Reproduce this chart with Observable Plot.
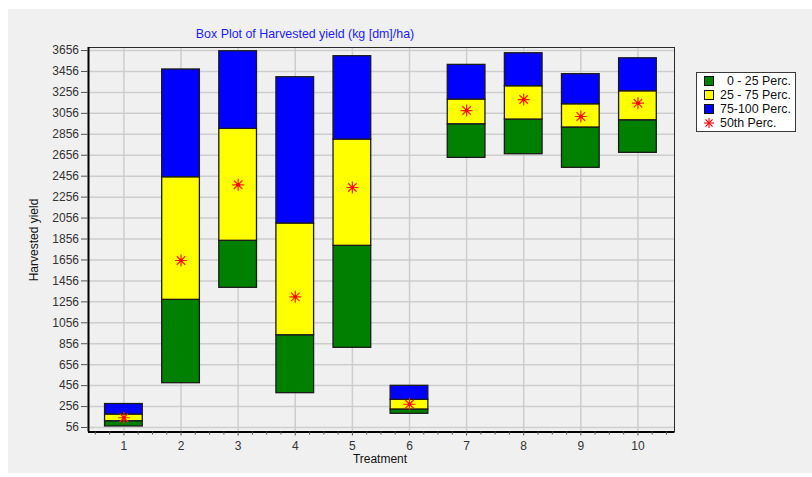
<!DOCTYPE html>
<html>
<head>
<meta charset="utf-8">
<script src="https://cdn.jsdelivr.net/npm/d3@7"></script>
<script src="https://cdn.jsdelivr.net/npm/@observablehq/plot@0.6"></script>
<style>
  html, body { margin: 0; padding: 0; background: #ffffff; }
  body { font-family: "Liberation Sans", Arial, sans-serif; }
  #wrap { position: relative; width: 812px; height: 477px; overflow: hidden; }
  #panel { position: absolute; left: 8px; top: 9px; right: 0; bottom: 4px; background: #f0f0f0; }
  #chart { position: absolute; left: 0; top: 0; }
  .lbl { position: absolute; white-space: pre; line-height: 1; color: #111; font-size: 12px; }
  #title { left: 305px; top: 28px; transform: translateX(-50%); color: #1c1cff; font-size: 12.4px; }
  #xlab { left: 380px; top: 453px; transform: translateX(-50%); }
  #ylab { left: 34px; top: 240px; transform: translate(-50%, -50%) rotate(-90deg); }
  #legend { position: absolute; left: 696px; top: 72px; width: 98px; height: 58px; background: #fff; border: 1px solid #3a3a3a; font-size: 12.4px; }
  .row { position: absolute; left: 0; height: 14px; width: 98px; }
  .sw { position: absolute; left: 7px; top: 2px; width: 8px; height: 8px; border: 1px solid #111; }
  .tx { position: absolute; left: 23px; top: 0; line-height: 14px; white-space: pre; color: #111; }
  .st { position: absolute; left: 6px; top: 1px; }
</style>
</head>
<body>
<div id="wrap">
  <div id="panel"></div>
  <div id="chart"></div>
  <div id="title" class="lbl">Box Plot of Harvested yield (kg [dm]/ha)</div>
  <div id="xlab" class="lbl">Treatment</div>
  <div id="ylab" class="lbl">Harvested yield</div>
  <div id="legend"></div>
</div>
<script>
// ---- data ----
const treatments = [1, 2, 3, 4, 5, 6, 7, 8, 9, 10];
const minVals    = [66, 479, 1390, 384, 817, 187, 2631, 2666, 2536, 2679];
const q1Vals     = [116, 1275, 1839, 937, 1791, 228, 2952, 2997, 2921, 2990];
const medVals    = [149, 1651, 2374, 1304, 2348, 278, 3083, 3188, 3026, 3153];
const q3Vals     = [180, 2446, 2908, 2004, 2806, 321, 3188, 3315, 3143, 3267];
const maxVals    = [280, 3475, 3649, 3401, 3602, 454, 3519, 3630, 3430, 3582];

const yTicks = [56, 256, 456, 656, 856, 1056, 1256, 1456, 1656, 1856, 2056, 2256, 2456, 2656, 2856, 3056, 3256, 3456, 3656];
const xTicks = [1, 2, 3, 4, 5, 6, 7, 8, 9, 10];
const xMinor = d3.range(0.5, 10.51, 0.25).filter(v => !Number.isInteger(v));

const legendLabels = ["  0 - 25 Perc.", "25 - 75 Perc.", "75-100 Perc.", "50th Perc."];
const legendColors = ["#008000", "#ffff00", "#0000ff", "#ff0000"];

const xDomain = [0.38, 10.64];
const yDomain = [13, 3685];
const halfWidth = 0.33;

const rows = treatments.map((t, i) => ({
  t, min: minVals[i], q1: q1Vals[i], med: medVals[i], q3: q3Vals[i], max: maxVals[i]
}));

// 8-spoke asterisk symbol
const star8 = {
  draw(context, size) {
    const r = Math.sqrt(size / Math.PI);
    for (let k = 0; k < 4; k++) {
      const a = k * Math.PI / 4;
      const dx = r * Math.cos(a), dy = r * Math.sin(a);
      context.moveTo(dx, dy);
      context.lineTo(-dx, -dy);
    }
  }
};

const boxStroke = "#1a1a1a";

const chart = Plot.plot({
  width: 812,
  height: 477,
  marginLeft: 88,
  marginRight: 138,
  marginTop: 47,
  marginBottom: 45.5,
  style: { background: "transparent", fontFamily: "Liberation Sans, Arial, sans-serif", fontSize: "12px", color: "#333" },
  x: { type: "linear", domain: xDomain },
  y: { type: "linear", domain: yDomain },
  marks: [
    Plot.gridY(yTicks, { stroke: "#cdcdcd", strokeOpacity: 1, strokeWidth: 1.5 }),
    Plot.gridX(xTicks, { stroke: "#cdcdcd", strokeOpacity: 1, strokeWidth: 1.5 }),
    Plot.rect(rows, { x1: d => d.t - halfWidth, x2: d => d.t + halfWidth, y1: "min", y2: "q1", fill: "#008000", stroke: boxStroke, strokeWidth: 1.3 }),
    Plot.rect(rows, { x1: d => d.t - halfWidth, x2: d => d.t + halfWidth, y1: "q1", y2: "q3", fill: "#ffff00", stroke: boxStroke, strokeWidth: 1.3 }),
    Plot.rect(rows, { x1: d => d.t - halfWidth, x2: d => d.t + halfWidth, y1: "q3", y2: "max", fill: "#0000ff", stroke: boxStroke, strokeWidth: 1.3 }),
    Plot.dot(rows, { x: "t", y: "med", symbol: star8, r: 6, stroke: "#ff2000", strokeWidth: 1.2 }),
    Plot.dot(rows, { x: "t", y: "med", r: 1.8, fill: "#ff0000", stroke: "none" }),
    Plot.frame({ stroke: "#2a2a2a", strokeWidth: 1 }),
    Plot.ruleY([yDomain[0]], { stroke: "#000", strokeWidth: 2 }),
    Plot.ruleX([xDomain[0]], { stroke: "#000", strokeWidth: 2 }),
    Plot.axisY(yTicks, { tickSize: 7, tickPadding: 2.5, tickFormat: d => String(d), label: null, stroke: "#555", fill: "#333", fontSize: 12 }),
    Plot.axisX(xTicks, { tickSize: 4, tickPadding: 5, tickFormat: d => String(d), label: null, stroke: "#555", fill: "#333", fontSize: 12 }),
    Plot.axisX(xMinor, { tickSize: 3, text: null, label: null, stroke: "#555" })
  ]
});
document.getElementById("chart").appendChild(chart);

// legend
const legend = document.getElementById("legend");
const rowCenters = [8, 22, 36, 50];
legendLabels.forEach((lab, i) => {
  const row = document.createElement("div");
  row.className = "row";
  row.style.top = (rowCenters[i] - 7) + "px";
  if (i < 3) {
    const sw = document.createElement("div");
    sw.className = "sw";
    sw.style.background = legendColors[i];
    row.appendChild(sw);
  } else {
    const svg = d3.create("svg").attr("class", "st").attr("width", 12).attr("height", 12);
    const g = svg.append("g").attr("transform", "translate(6,6)");
    for (let k = 0; k < 4; k++) {
      const a = k * Math.PI / 4, r = 5;
      g.append("line").attr("x1", r * Math.cos(a)).attr("y1", r * Math.sin(a))
        .attr("x2", -r * Math.cos(a)).attr("y2", -r * Math.sin(a))
        .attr("stroke", legendColors[i]).attr("stroke-width", 1.1);
    }
    row.appendChild(svg.node());
  }
  const tx = document.createElement("div");
  tx.className = "tx";
  tx.textContent = lab;
  row.appendChild(tx);
  legend.appendChild(row);
});
</script>
</body>
</html>
